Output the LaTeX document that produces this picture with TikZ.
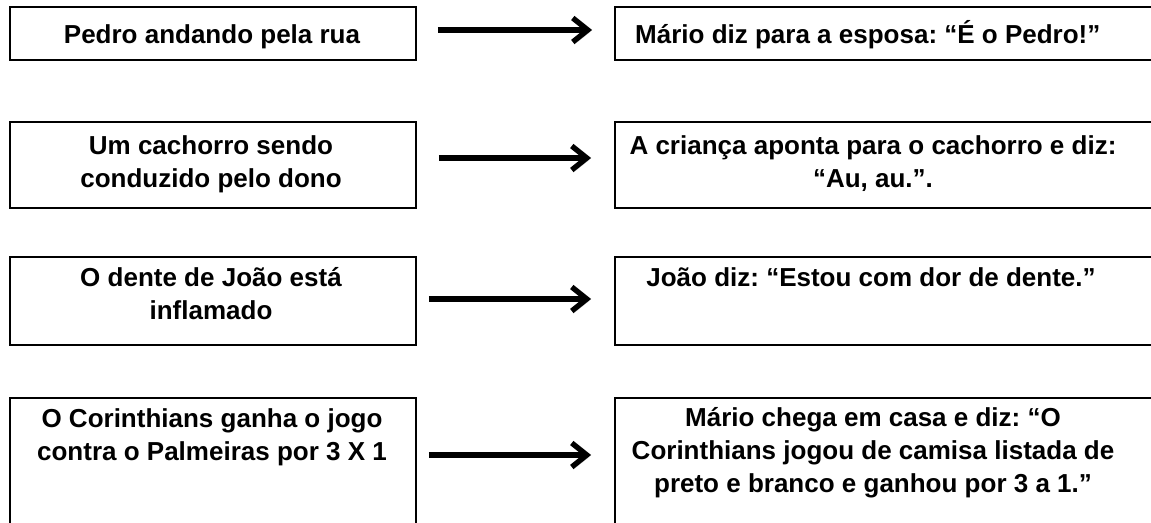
\documentclass[tikz,border=0pt]{standalone}
\usepackage{fontspec}
\setmainfont{Liberation Sans}
\usetikzlibrary{arrows.meta}
\frenchspacing

\begin{document}
\begin{tikzpicture}[x=1pt, y=-1pt]
	\tikzset{
	  CaixaStyle/.style = { draw, line width = 1.8pt, inner sep = 0pt },
	  TextoStyle/.style = { align = center, inner sep = 0pt, anchor = base,
	                        font = \fontsize{26}{32.8}\selectfont\bfseries },
	  SetaStyle/.style = { line width = 5.4pt,
	                       -{Straight Barb[length = 15pt, width = 24pt]},
	                       preaction = {draw = black!20, opacity = .7,
	                         transform canvas = {shift = {(1.5pt,-2.5pt)}}} } }
	\useasboundingbox (0,0) rectangle (1151,522);
	\clip (0,0) rectangle (1151,522);
%	\draw[help lines, step = 50] (0,0) grid (1151,522);
	% caixas da esquerda
	\node[CaixaStyle, minimum width = 406pt, minimum height = 53pt] (lb1) at (213,33.5) {};
	\node[CaixaStyle, minimum width = 406pt, minimum height = 86pt] (lb2) at (213,165) {};
	\node[CaixaStyle, minimum width = 406pt, minimum height = 88pt] (lb3) at (213,301) {};
	\node[CaixaStyle, minimum width = 406pt, minimum height = 170pt] (lb4) at (213,483) {};
	% caixas da direita
	\node[CaixaStyle, minimum width = 555pt, minimum height = 53pt] (rb1) at (892.5,33.5) {};
	\node[CaixaStyle, minimum width = 555pt, minimum height = 86pt] (rb2) at (892.5,165) {};
	\node[CaixaStyle, minimum width = 555pt, minimum height = 88pt] (rb3) at (892.5,301) {};
	\node[CaixaStyle, minimum width = 555pt, minimum height = 170pt] (rb4) at (892.5,483) {};
	% textos (base = ultima linha)
	\node[TextoStyle] (lt1) at (212,43) {Pedro andando pela rua};
	\node[TextoStyle] (lt2) at (211,187) {Um cachorro sendo\\conduzido pelo dono};
	\node[TextoStyle] (lt3) at (211,319) {O dente de João está\\inflamado};
	\node[TextoStyle] (lt4) at (212,460) {O Corinthians ganha o jogo\\contra o Palmeiras por 3 X 1};
	\node[TextoStyle, anchor = base west] (rt1) at (635,43) {Mário diz para a esposa: “É o Pedro!”};
	\node[TextoStyle] (rt2) at (873,187) {A criança aponta para o cachorro e diz:\\“Au, au.”.};
	\node[TextoStyle] (rt3) at (871,286) {João diz: “Estou com dor de dente.”};
	\node[TextoStyle] (rt4) at (873,492) {Mário chega em casa e diz: “O\\Corinthians jogou de camisa listada de\\preto e branco e ganhou por 3 a 1.”};
	% setas
	\draw[SetaStyle, shorten < = 21pt, shorten > = 22pt]
	  ([yshift = 3.5pt]lb1.east) -- ([yshift = 3.5pt]rb1.west);
	\draw[SetaStyle, shorten < = 22pt, shorten > = 23pt]
	  ([yshift = 7pt]lb2.east) -- ([yshift = 7pt]rb2.west);
	\draw[SetaStyle, shorten < = 12pt, shorten > = 23pt]
	  ([yshift = 2pt]lb3.east) -- ([yshift = 2pt]rb3.west);
	\draw[SetaStyle, shorten < = 12pt, shorten > = 23pt]
	  ([yshift = 28pt]lb4.east) -- ([yshift = 28pt]rb4.west);
\end{tikzpicture}
\end{document}
